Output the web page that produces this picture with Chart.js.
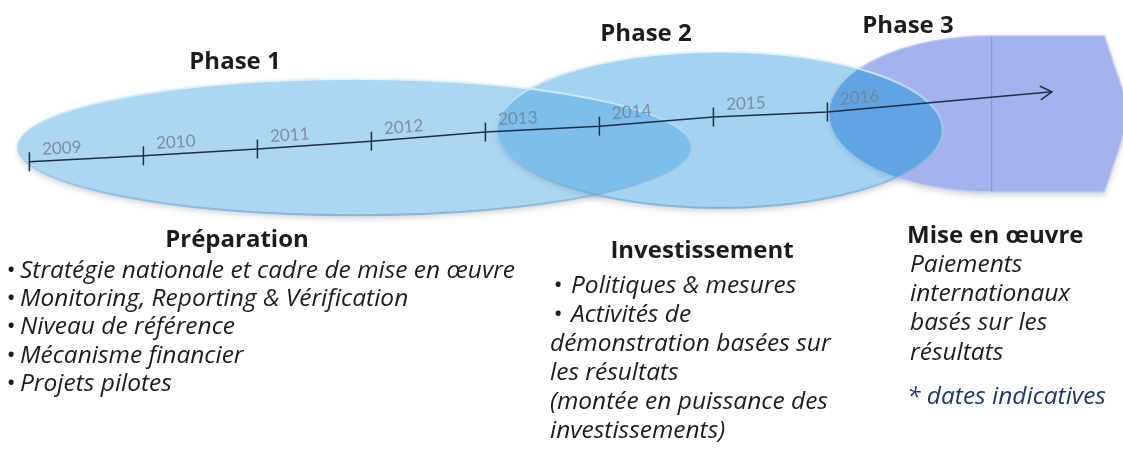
<!DOCTYPE html>
<html>
<head>
<meta charset="utf-8">
<script src="https://cdn.jsdelivr.net/npm/chart.js@4.4.1/dist/chart.umd.min.js"></script>
<style>
html,body{margin:0;padding:0;background:#ffffff;overflow:hidden}
canvas{display:block}
</style>
</head>
<body>
<canvas id="c" width="1123" height="457"></canvas>
<script>
// ---------- DATA ----------
const years = [2009, 2010, 2011, 2012, 2013, 2014, 2015, 2016];
const yearLabels = ['2009', '2010', '2011', '2012', '2013', '2014', '2015', '2016'];
const timelineLevel = [64.6, 65.9, 67.4, 69.1, 71.1, 72.4, 74.4, 75.5];
const arrowEndYear = 2017.97;
const arrowEndLevel = 79.9;

const phaseNames = ['Phase 1', 'Phase 2', 'Phase 3'];
const phaseStartYear = [2008.90, 2013.10, 2016.02];
const phaseEndYear = [2014.81, 2017.01, 2018.66];
const phaseMidLevel = [67.8, 71.6, 75.1];
const phaseHalfHeight = [14.9, 17.1, 17.1];
const phase3BodyYear = 2017.44;
const phase3FlatEndYear = 2018.43;

const phaseTitles = ['Préparation', 'Investissement', 'Mise en œuvre'];
const prepItems = [
  'Stratégie nationale et cadre de mise en œuvre',
  'Monitoring, Reporting & Vérification',
  'Niveau de référence',
  'Mécanisme financier',
  'Projets pilotes'
];
const investItems = ['Politiques & mesures', 'Activités de'];
const investContinuation = [
  'démonstration basées sur',
  'les résultats',
  '(montée en puissance des',
  'investissements)'
];
const implLines = ['Paiements', 'internationaux', 'basés sur les', 'résultats'];
const footnote = '* dates indicatives';

// ---------- STYLE / LAYOUT ----------
const FONT = '"Open Sans"';
const C = {
  line: '#1d2f47',
  year: 'rgba(112,130,150,0.85)',
  text: '#1c1c1c',
  note: '#1f3864',
  ell1Fill: 'rgba(80,168,228,0.47)',
  ell2Fill: 'rgba(80,168,228,0.52)',
  p3Fill: '#a5b2ee',
  overlap: '#62a3e2'
};

function ellipsePath(ctx, xs, ys, i) {
  const x0 = xs.getPixelForValue(phaseStartYear[i]);
  const x1 = xs.getPixelForValue(phaseEndYear[i]);
  const cy = ys.getPixelForValue(phaseMidLevel[i]);
  const ry = Math.abs(ys.getPixelForValue(phaseMidLevel[i] + phaseHalfHeight[i]) - cy);
  ctx.beginPath();
  ctx.ellipse((x0 + x1) / 2, cy, (x1 - x0) / 2, ry, 0, 0, Math.PI * 2);
  ctx.closePath();
}
function phase3Path(ctx, xs, ys) {
  const bx = xs.getPixelForValue(phase3BodyYear);
  const fx = xs.getPixelForValue(phase3FlatEndYear);
  const tx = xs.getPixelForValue(phaseEndYear[2]);
  const lx = xs.getPixelForValue(phaseStartYear[2]);
  const cy = ys.getPixelForValue(phaseMidLevel[2]);
  const ry = Math.abs(ys.getPixelForValue(phaseMidLevel[2] + phaseHalfHeight[2]) - cy);
  ctx.beginPath();
  ctx.moveTo(bx, cy - ry);
  ctx.lineTo(fx, cy - ry);
  ctx.quadraticCurveTo(fx + (tx - fx) * 0.55, cy - ry * 0.45, tx, cy);
  ctx.quadraticCurveTo(fx + (tx - fx) * 0.55, cy + ry * 0.45, fx, cy + ry);
  ctx.lineTo(bx, cy + ry);
  ctx.ellipse(bx, cy, bx - lx, ry, 0, Math.PI / 2, Math.PI * 1.5, false);
  ctx.closePath();
  return {bx, top: cy - ry, bottom: cy + ry};
}

const shapesPlugin = {
  id: 'phaseShapes',
  beforeDatasetsDraw(chart) {
    const ctx = chart.ctx, xs = chart.scales.x, ys = chart.scales.y;
    // soft shadows
    ctx.save();
    ctx.shadowColor = 'rgba(70,90,110,0.28)';
    ctx.shadowBlur = 6;
    ctx.shadowOffsetY = 3;
    ctx.fillStyle = '#ffffff';
    ellipsePath(ctx, xs, ys, 0); ctx.fill();
    ellipsePath(ctx, xs, ys, 1); ctx.fill();
    phase3Path(ctx, xs, ys); ctx.fill();
    ctx.restore();

    // phase 3 arrow shape
    ctx.save();
    const p3 = phase3Path(ctx, xs, ys);
    ctx.fillStyle = C.p3Fill; ctx.fill();
    ctx.strokeStyle = 'rgba(190,205,245,0.9)'; ctx.lineWidth = 1.5; ctx.stroke();
    ctx.beginPath();
    ctx.moveTo(p3.bx, p3.top + 1); ctx.lineTo(p3.bx, p3.bottom - 1);
    ctx.strokeStyle = 'rgba(128,142,212,0.8)'; ctx.lineWidth = 1.2; ctx.stroke();
    ctx.restore();

    // phase 1 and phase 2 ellipses
    [0, 1].forEach(i => {
      ctx.save();
      ellipsePath(ctx, xs, ys, i);
      ctx.fillStyle = i === 0 ? C.ell1Fill : C.ell2Fill;
      ctx.fill();
      ctx.restore();
    });

    // overlap of phase 2 and phase 3
    ctx.save();
    ellipsePath(ctx, xs, ys, 1);
    ctx.clip();
    phase3Path(ctx, xs, ys);
    ctx.fillStyle = C.overlap;
    ctx.fill();
    ctx.restore();

    // edges
    [0, 1].forEach(i => {
      ctx.save();
      const cy = ys.getPixelForValue(phaseMidLevel[i]);
      const ry = Math.abs(ys.getPixelForValue(phaseMidLevel[i] + phaseHalfHeight[i]) - cy);
      const g = ctx.createLinearGradient(0, cy - ry, 0, cy + ry);
      g.addColorStop(0, 'rgba(225,245,254,0.95)');
      g.addColorStop(0.5, 'rgba(170,215,240,0.6)');
      g.addColorStop(1, 'rgba(95,150,200,0.55)');
      ellipsePath(ctx, xs, ys, i);
      ctx.strokeStyle = g; ctx.lineWidth = 2;
      ctx.stroke();
      ctx.restore();
    });
  },
  afterDatasetsDraw(chart) {
    const ctx = chart.ctx;
    const pts = chart.getDatasetMeta(0).data;
    // arrow head
    const a = pts[pts.length - 1], b = pts[pts.length - 2];
    const ang = Math.atan2(a.y - b.y, a.x - b.x);
    ctx.save();
    ctx.strokeStyle = C.line; ctx.lineWidth = 1.5; ctx.lineCap = 'round';
    ctx.beginPath();
    ctx.moveTo(a.x + 13 * Math.cos(ang + Math.PI * 0.83), a.y + 13 * Math.sin(ang + Math.PI * 0.83));
    ctx.lineTo(a.x, a.y);
    ctx.lineTo(a.x + 13 * Math.cos(ang - Math.PI * 0.83), a.y + 13 * Math.sin(ang - Math.PI * 0.83));
    ctx.stroke();
    ctx.restore();
    // year labels along the timeline
    ctx.save();
    ctx.font = '17px Lato';
    ctx.fillStyle = C.year;
    ctx.textBaseline = 'alphabetic';
    for (let i = 0; i < yearLabels.length; i++) {
      const p = pts[i], q = pts[i + 1];
      const t = Math.atan2(q.y - p.y, q.x - p.x);
      ctx.save();
      ctx.translate(p.x + 13, p.y - 7);
      ctx.rotate(t);
      ctx.fillText(yearLabels[i], 0, 0);
      ctx.restore();
    }
    ctx.restore();
  },
  afterDraw(chart) {
    const ctx = chart.ctx;
    ctx.save();
    ctx.fillStyle = C.text;
    ctx.textBaseline = 'alphabetic';
    // phase names
    ctx.font = 'bold 24px ' + FONT;
    ctx.textAlign = 'center';
    const phasePos = [[235, 69], [646, 41], [908, 33]];
    phaseNames.forEach((n, i) => ctx.fillText(n, phasePos[i][0], phasePos[i][1]));
    // block titles
    ctx.fillText(phaseTitles[0], 237, 247);
    ctx.fillText(phaseTitles[1], 702, 258);
    ctx.textAlign = 'left';
    ctx.fillText(phaseTitles[2], 907, 243);
    // preparation bullets
    ctx.font = 'italic 24.5px ' + FONT;
    prepItems.forEach((t, i) => {
      const y = 278 + i * 28.2;
      ctx.fillText('•', 6, y);
      ctx.fillText(t, 20, y);
    });
    // investment bullets and wrapped lines
    investItems.forEach((t, i) => {
      const y = 293 + i * 29;
      ctx.fillText('•', 553, y);
      ctx.fillText(t, 571, y);
    });
    investContinuation.forEach((t, i) => {
      ctx.fillText(t, 550, 293 + (i + 2) * 29);
    });
    // implementation
    implLines.forEach((t, i) => {
      ctx.fillText(t, 910, 272 + i * 29.2);
    });
    ctx.fillStyle = C.note;
    ctx.fillText(footnote, 907, 404);
    ctx.restore();
  }
};

function build() {
  const pts = years.map((y, i) => ({x: y, y: timelineLevel[i]}));
  pts.push({x: arrowEndYear, y: arrowEndLevel});
  const radii = years.map(() => 9.5).concat([0]);
  new Chart(document.getElementById('c'), {
    type: 'line',
    data: {
      datasets: [{
        label: 'Calendrier',
        data: pts,
        borderColor: C.line,
        borderWidth: 1.5,
        tension: 0,
        fill: false,
        clip: false,
        pointStyle: 'line',
        pointRotation: 90,
        pointRadius: radii,
        pointBorderColor: C.line,
        pointBorderWidth: 1.5,
        pointHoverRadius: radii
      }]
    },
    options: {
      responsive: false,
      animation: false,
      devicePixelRatio: 1,
      layout: {padding: 0, autoPadding: false},
      events: [],
      plugins: {legend: {display: false}, tooltip: {enabled: false}, title: {display: false}},
      scales: {
        x: {type: 'linear', min: 2008.742, max: 2018.593, display: false},
        y: {type: 'linear', min: 0, max: 100, display: false}
      }
    },
    plugins: [shapesPlugin]
  });
}
Promise.all([
  document.fonts.load('bold 24px "Open Sans"'),
  document.fonts.load('italic 24px "Open Sans"'),
  document.fonts.load('17px Lato')
]).then(build, build);
</script>
</body>
</html>
